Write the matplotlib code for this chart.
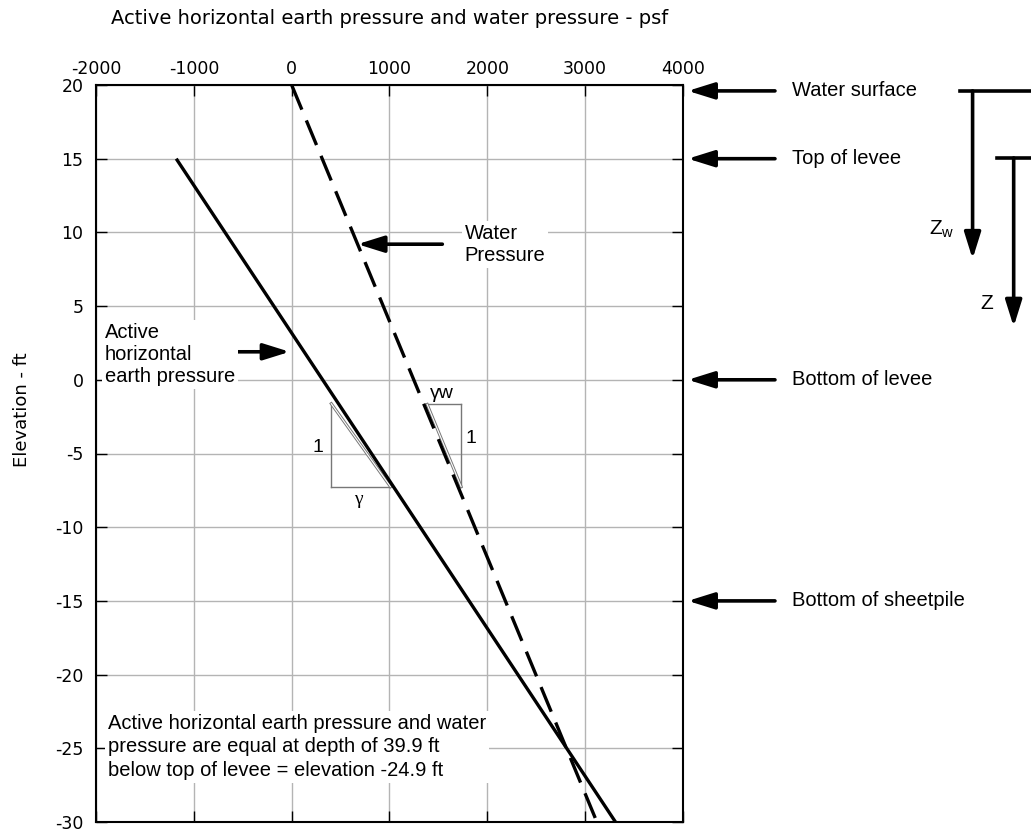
import numpy as np
import matplotlib.pyplot as plt

plt.rcParams['font.family'] = ['Liberation Sans', 'DejaVu Sans']
plt.rcParams['mathtext.fontset'] = 'custom'
plt.rcParams['mathtext.rm'] = 'Liberation Sans'
plt.rcParams['axes.unicode_minus'] = False
AXFONT = ['DejaVu Sans']

# pressure profiles: elevation (ft) vs pressure (psf)
water_elev = [20, -30]
water_press = [0, 3120]
earth_elev = [15, -30]
earth_press = [-1180, 3310]

# reference levels marked on the right
level_names = ['Water surface', 'Top of levee', 'Bottom of levee', 'Bottom of sheetpile']
level_elev = [19.6, 15, 0, -15]

x_ticks = [-2000, -1000, 0, 1000, 2000, 3000, 4000]
y_ticks = [20, 15, 10, 5, 0, -5, -10, -15, -20, -25, -30]

# slope triangles (unit weights)
earth_tri_x = [405, 405, 1010]
earth_tri_y = [-1.62, -7.25, -7.25]
water_tri_x = [1385, 1732, 1732]
water_tri_y = [-1.67, -1.67, -7.25]

fig = plt.figure(figsize=(10.31, 8.33), dpi=100)
ax = fig.add_axes([96 / 1031, 11 / 833, 587 / 1031, 737 / 833])
ax.set_xlim(-2000, 4000)
ax.set_ylim(-30, 20)
ax.set_xticks(x_ticks)
ax.set_yticks(y_ticks)
ax.xaxis.tick_top()
ax.tick_params(direction='in', length=8, width=1, top=True, bottom=True,
               left=True, right=True, labeltop=True, labelbottom=False,
               labelsize=12.5)
ax.tick_params(axis='x', pad=5)
ax.tick_params(axis='y', pad=9)
for lab in ax.get_xticklabels() + ax.get_yticklabels():
    lab.set_family(AXFONT)
ax.grid(True, color='#b4b4b4', lw=1)
ax.set_axisbelow(True)
for s in ax.spines.values():
    s.set_linewidth(1.5)

ax.plot(earth_press, earth_elev, color='k', lw=2.4, solid_capstyle='butt', zorder=4)
ax.plot(water_press, water_elev, color='k', lw=2.4, dashes=(8, 3.5), zorder=4)

# slope triangles
for tx, ty in [(earth_tri_x, earth_tri_y), (water_tri_x, water_tri_y)]:
    ax.plot(tx[:2], ty[:2], color='#777777', lw=1, zorder=3)
    ax.plot(tx[1:], ty[1:], color='#777777', lw=1, zorder=3)
    ax.plot(tx[::2], ty[::2], color='#777777', lw=2.2, zorder=3)
    ax.plot(tx[::2], ty[::2], color='white', lw=0.8, zorder=3)
ax.text(270, -4.6, '1', fontsize=14, ha='center', va='center')
ax.text(684, -8.1, 'γ', fontsize=14, ha='center', va='center',
        family=['Liberation Serif'])
ax.text(1540, -0.9, 'γw', fontsize=14, ha='center', va='center')
ax.text(1830, -4.0, '1', fontsize=14, ha='center', va='center')

arrow = dict(arrowstyle='-|>,head_length=1.6,head_width=0.5', mutation_scale=10,
             lw=2.6, color='k', shrinkA=0, shrinkB=0)
box = dict(facecolor='white', edgecolor='none', pad=2)

# callouts inside the plot
ax.annotate('', xy=(673, 9.2), xytext=(1540, 9.2), arrowprops=arrow, zorder=5)
ax.text(1770, 9.2, 'Water\nPressure', fontsize=14.5, va='center', ha='left',
        bbox=box, zorder=5)
ax.annotate('', xy=(-20, 1.9), xytext=(-900, 1.9), arrowprops=arrow, zorder=5)
ax.text(-1910, 1.7, 'Active\nhorizontal\nearth pressure', fontsize=14.5,
        va='center', ha='left', bbox=box, zorder=5)
ax.text(-1880, -24.9, 'Active horizontal earth pressure and water\n'
        'pressure are equal at depth of 39.9 ft\n'
        'below top of levee = elevation -24.9 ft',
        fontsize=14.5, va='center', ha='left', linespacing=1.3, bbox=box, zorder=5)

# level markers to the right of the plot
for name, el in zip(level_names, level_elev):
    ax.annotate('', xy=(4050, el), xytext=(4940, el), arrowprops=arrow,
                annotation_clip=False)
    ax.text(5110, el, name, fontsize=14.5, va='center', ha='left', clip_on=False)

# depth measured from water surface and from top of levee
ax.plot([6830, 7800], [19.6, 19.6], color='k', lw=2.6, clip_on=False)
ax.annotate('', xy=(6960, 8.2), xytext=(6960, 19.6), arrowprops=arrow,
            annotation_clip=False)
ax.text(6780, 10.2, r'Z$_\mathrm{w}$', fontsize=15, ha='right', va='center',
        clip_on=False)
ax.plot([7210, 7800], [15.05, 15.05], color='k', lw=2.6, clip_on=False)
ax.annotate('', xy=(7380, 3.6), xytext=(7380, 15.05), arrowprops=arrow,
            annotation_clip=False)
ax.text(7100, 5.2, 'Z', fontsize=15, ha='center', va='center', clip_on=False)

pos = ax.get_position()
fig.text(pos.x0 + pos.width / 2, 1 - 19 / 833,
         'Active horizontal earth pressure and water pressure - psf',
         family=AXFONT, fontsize=14, ha='center', va='center')
fig.text(22 / 1031, 1 - 410 / 833, 'Elevation - ft', family=AXFONT, fontsize=13,
         rotation=90, ha='center', va='center')

fig.savefig('out.png', dpi=100)
